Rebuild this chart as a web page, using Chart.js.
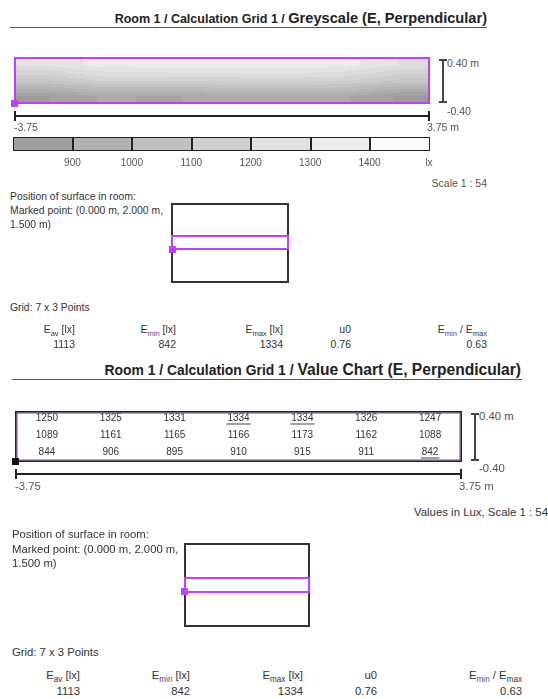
<!DOCTYPE html>
<html>
<head>
<meta charset="utf-8">
<script src="https://cdn.jsdelivr.net/npm/chart.js@4.4.1/dist/chart.umd.min.js"></script>
<style>
  html, body { margin: 0; padding: 0; background: #fff; }
  body { width: 548px; height: 699px; position: relative; overflow: hidden;
         font-family: "Liberation Sans", Arial, sans-serif; color: #333; }
  .a { position: absolute; white-space: nowrap; line-height: 1; }
  .l { transform: translateY(-50%); }
  .r { transform: translate(-100%, -50%); }
  .c { transform: translate(-50%, -50%); }
  .g { color: #555; }
  .t1 { font-weight: bold; color: #222; }
  .hr { position: absolute; height: 1px; background: #555; }
  .box { position: absolute; box-sizing: border-box; }
  sub { font-size: 72%; vertical-align: -3px; line-height: 0; }
  .pm { color: #6a3d8c; }
</style>
</head>
<body>

<!-- section 1 -->
<div class="a r t1" style="left:487px; top:18px;"><span style="font-size:12.5px">Room 1 / Calculation Grid 1 / </span><span style="font-size:14.6px">Greyscale (E, Perpendicular)</span></div>
<div class="hr" style="left:10px; top:27px; width:477px;"></div>

<div style="position:absolute; left:14px; top:57px; width:416px; height:47px;"><canvas id="greyMap" width="416" height="47"></canvas></div>
<div class="box" style="left:11px; top:100px; width:7px; height:7px; background:#c040ff;"></div>

<div class="a r g" style="left:487px; top:183px; font-size:10.5px;">Scale 1 : 54</div>

<div class="a l" style="left:10px; top:197px; font-size:10.4px;">Position of surface in room:</div>
<div class="a l" style="left:10px; top:211px; font-size:10.4px;">Marked point: (0.000 m, 2.000 m,</div>
<div class="a l" style="left:10px; top:225px; font-size:10.4px;">1.500 m)</div>
<div class="box" style="left:171px; top:203px; width:118px; height:80px; border:2px solid #333;"></div>
<div class="box" style="left:171px; top:235px; width:118px; height:15px; border:2px solid #c040ff;"></div>
<div class="box" style="left:169px; top:246px; width:7px; height:7px; background:#c040ff;"></div>

<div class="a l" style="left:10px; top:308px; font-size:10.4px;">Grid: 7 x 3 Points</div>

<!-- section 2 -->
<div class="a r t1" style="left:521px; top:370px;"><span style="font-size:13.9px">Room 1 / Calculation Grid 1 / </span><span style="font-size:15.6px">Value Chart (E, Perpendicular)</span></div>
<div class="hr" style="left:12px; top:379px; width:510px;"></div>

<div style="position:absolute; left:15px; top:411px; width:447px; height:51px;"><canvas id="valueChart" width="447" height="51"></canvas></div>
<div class="box" style="left:12px; top:458px; width:7px; height:7px; background:#111;"></div>

<div class="a r" style="left:548px; top:513px; font-size:11.4px;">Values in Lux, Scale 1 : 54</div>

<div class="a l" style="left:12px; top:535px; font-size:11.3px;">Position of surface in room:</div>
<div class="a l" style="left:12px; top:550px; font-size:11.3px;">Marked point: (0.000 m, 2.000 m,</div>
<div class="a l" style="left:12px; top:564px; font-size:11.3px;">1.500 m)</div>
<div class="box" style="left:184px; top:543px; width:126px; height:84px; border:2px solid #333;"></div>
<div class="box" style="left:184px; top:577px; width:126px; height:16px; border:2px solid #c040ff;"></div>
<div class="box" style="left:181px; top:588px; width:7px; height:7px; background:#c040ff;"></div>

<div class="a l" style="left:12px; top:653px; font-size:11.3px;">Grid: 7 x 3 Points</div>

<script>
// grid values (lx), rows from top to bottom of the surface
const rowTop = [1250, 1325, 1331, 1334, 1334, 1326, 1247];
const rowMid = [1089, 1161, 1165, 1166, 1173, 1162, 1088];
const rowBottom = [844, 906, 895, 910, 915, 911, 842];
const gridRows = [rowTop, rowMid, rowBottom];

const surfaceX = [-3.75, 3.75];   // m
const surfaceY = [-0.40, 0.40];   // m

const legendTicks = ['900', '1000', '1100', '1200', '1300', '1400', 'lx'];
const legendGreys = ['#a0a0a0', '#b1b1b1', '#c0c0c0', '#d0d0d0', '#e0e0e0', '#efefef', '#ffffff'];

const statLabels = ['E<sub>av</sub> [lx]', 'E<sub class="pm">min</sub> [lx]', 'E<sub>max</sub> [lx]', 'u0', 'E<sub class="pm">min</sub> / E<sub>max</sub>'];
const statValues = ['1113', '842', '1334', '0.76', '0.63'];

const nx = rowTop.length, ny = gridRows.length;
const dx = (surfaceX[1] - surfaceX[0]) / nx;
const dy = (surfaceY[1] - surfaceY[0]) / ny;
const colX = rowTop.map((_, i) => surfaceX[0] + dx * (i + 0.5));
const rowY = gridRows.map((_, j) => surfaceY[1] - dy * (j + 0.5));

const points = [];
gridRows.forEach((row, j) => row.forEach((v, i) => points.push({ x: colX[i], y: rowY[j], v: v })));

const allVals = gridRows.flat();
const minVal = Math.min(...allVals), maxVal = Math.max(...allVals);

// --- helpers for the html parts
function add(html) { document.body.insertAdjacentHTML('beforeend', html); }

function scaleBars(left, right, top, bottom, barX, hY, fs, xLabY, yLabX) {
    add(`<div class="box" style="left:${left}px; top:${hY}px; width:${right - left}px; height:2px; background:#222;"></div>`);
    add(`<div class="box" style="left:${left}px; top:${hY - 4}px; width:2px; height:10px; background:#222;"></div>`);
    add(`<div class="box" style="left:${right - 2}px; top:${hY - 4}px; width:2px; height:10px; background:#222;"></div>`);
    add(`<div class="box" style="left:${barX}px; top:${top}px; width:2px; height:${bottom - top}px; background:#444;"></div>`);
    add(`<div class="box" style="left:${barX - 3}px; top:${top}px; width:8px; height:2px; background:#444;"></div>`);
    add(`<div class="box" style="left:${barX - 3}px; top:${bottom - 2}px; width:8px; height:2px; background:#444;"></div>`);
    add(`<div class="a l g" style="left:${yLabX}px; top:${top + 4}px; font-size:${fs}px;">${surfaceY[1].toFixed(2)} m</div>`);
    add(`<div class="a l g" style="left:${yLabX}px; top:${bottom + 8}px; font-size:${fs}px;">${surfaceY[0].toFixed(2)}</div>`);
    add(`<div class="a l g" style="left:${left}px; top:${xLabY}px; font-size:${fs}px;">${surfaceX[0].toFixed(2)}</div>`);
    add(`<div class="a l g" style="left:${right - 3}px; top:${xLabY}px; font-size:${fs}px;">${surfaceX[1].toFixed(2)} m</div>`);
}

function statsRow(rights, headY, valY, fs) {
    statLabels.forEach((lab, i) => {
        add(`<div class="a r" style="left:${rights[i]}px; top:${headY}px; font-size:${fs}px;">${lab}</div>`);
        add(`<div class="a r" style="left:${rights[i]}px; top:${valY}px; font-size:${fs}px;">${statValues[i]}</div>`);
    });
}

scaleBars(14, 430, 59, 103, 442, 115, 10.5, 127, 447);
scaleBars(15, 462, 413, 461, 474, 473, 11.3, 487, 479);
statsRow([75, 176, 283, 351, 487], 329, 344, 10.5);
statsRow([80, 190, 303, 377, 522], 676, 692, 11.3);

// legend bar
(function () {
    const left = 13, width = 416, top = 137, h = 14;
    const seg = width / legendGreys.length;
    let html = `<div class="box" style="left:${left}px; top:${top}px; width:${width + 1}px; height:${h}px; border:1px solid #222; display:flex;">`;
    legendGreys.forEach((c, i) => {
        html += `<div style="flex:1; background:${c}; ${i > 0 ? 'border-left:2px solid #222;' : ''}"></div>`;
    });
    html += '</div>';
    add(html);
    legendTicks.forEach((t, i) => {
        add(`<div class="a c g" style="left:${left + seg * (i + 1)}px; top:163px; font-size:10px;">${t}</div>`);
    });
})();

// --- greyscale map
function valueAt(xv, yv) {
    let fi = (xv - colX[0]) / dx, fj = (rowY[0] - yv) / dy;
    fi = Math.max(0, Math.min(nx - 1, fi));
    fj = Math.max(0, Math.min(ny - 1, fj));
    const i0 = Math.min(nx - 2, Math.floor(fi)), j0 = Math.min(ny - 2, Math.floor(fj));
    const tx = fi - i0, ty = fj - j0;
    const a = gridRows[j0][i0], b = gridRows[j0][i0 + 1];
    const c = gridRows[j0 + 1][i0], d = gridRows[j0 + 1][i0 + 1];
    return (a * (1 - tx) + b * tx) * (1 - ty) + (c * (1 - tx) + d * tx) * ty;
}

const greyPlugin = {
    id: 'greyFill',
    beforeDatasetsDraw(chart) {
        const { ctx, chartArea: ca, scales } = chart;
        const w = Math.round(ca.right - ca.left), h = Math.round(ca.bottom - ca.top);
        const img = ctx.createImageData(w, h);
        for (let py = 0; py < h; py++) {
            const yv = scales.y.getValueForPixel(ca.top + py + 0.5);
            for (let px = 0; px < w; px++) {
                const xv = scales.x.getValueForPixel(ca.left + px + 0.5);
                const v = valueAt(xv, yv);
                const q = Math.floor(v / 50) * 50 + 25;
                const g = Math.max(150, Math.min(255, Math.round(160 + (q - 850) * 0.16)));
                const k = (py * w + px) * 4;
                img.data[k] = g; img.data[k + 1] = g; img.data[k + 2] = g; img.data[k + 3] = 255;
            }
        }
        ctx.putImageData(img, Math.round(ca.left), Math.round(ca.top));
    },
    afterDraw(chart) {
        const { ctx, chartArea: ca } = chart;
        ctx.save();
        ctx.strokeStyle = '#c040ff';
        ctx.lineWidth = 2;
        ctx.strokeRect(ca.left + 1, ca.top + 1, ca.right - ca.left - 2, ca.bottom - ca.top - 2);
        ctx.restore();
    }
};

const valuePlugin = {
    id: 'valueLabels',
    afterDatasetsDraw(chart) {
        const { ctx, chartArea: ca, scales } = chart;
        ctx.save();
        ctx.font = '10px "Liberation Sans", Arial, sans-serif';
        ctx.textAlign = 'center';
        ctx.textBaseline = 'middle';
        points.forEach(p => {
            const px = scales.x.getPixelForValue(p.x);
            const py = scales.y.getPixelForValue(p.y) - 1.5;
            ctx.fillStyle = '#333';
            ctx.fillText(String(p.v), px, py);
            if (p.v === minVal || p.v === maxVal) {
                const tw = ctx.measureText(String(p.v)).width + 2;
                ctx.fillStyle = '#444';
                ctx.fillRect(px - tw / 2, py + 5.5, tw, 1);
            }
        });
        ctx.lineWidth = 1;
        ctx.strokeStyle = '#8a2be2';
        ctx.strokeRect(ca.left + 2, ca.top + 2, ca.right - ca.left - 4, ca.bottom - ca.top - 4);
        ctx.lineWidth = 1.5;
        ctx.strokeStyle = '#222';
        ctx.strokeRect(ca.left + 0.75, ca.top + 0.75, ca.right - ca.left - 1.5, ca.bottom - ca.top - 1.5);
        ctx.restore();
    }
};

function baseOptions() {
    return {
        responsive: false,
        animation: false,
        events: [],
        layout: { padding: 0 },
        plugins: { legend: { display: false }, tooltip: { enabled: false } },
        scales: {
            x: { type: 'linear', min: surfaceX[0], max: surfaceX[1], display: false },
            y: { type: 'linear', min: surfaceY[0], max: surfaceY[1], display: false }
        }
    };
}

try {
    new Chart(document.getElementById('greyMap').getContext('2d'), {
        type: 'scatter',
        data: { datasets: [{ data: points, pointRadius: 0 }] },
        options: baseOptions(),
        plugins: [greyPlugin]
    });
    new Chart(document.getElementById('valueChart').getContext('2d'), {
        type: 'scatter',
        data: { datasets: [{ data: points, pointRadius: 0 }] },
        options: baseOptions(),
        plugins: [valuePlugin]
    });
} catch (error) {
    console.error('Error drawing charts:', error);
}
</script>
</body>
</html>
